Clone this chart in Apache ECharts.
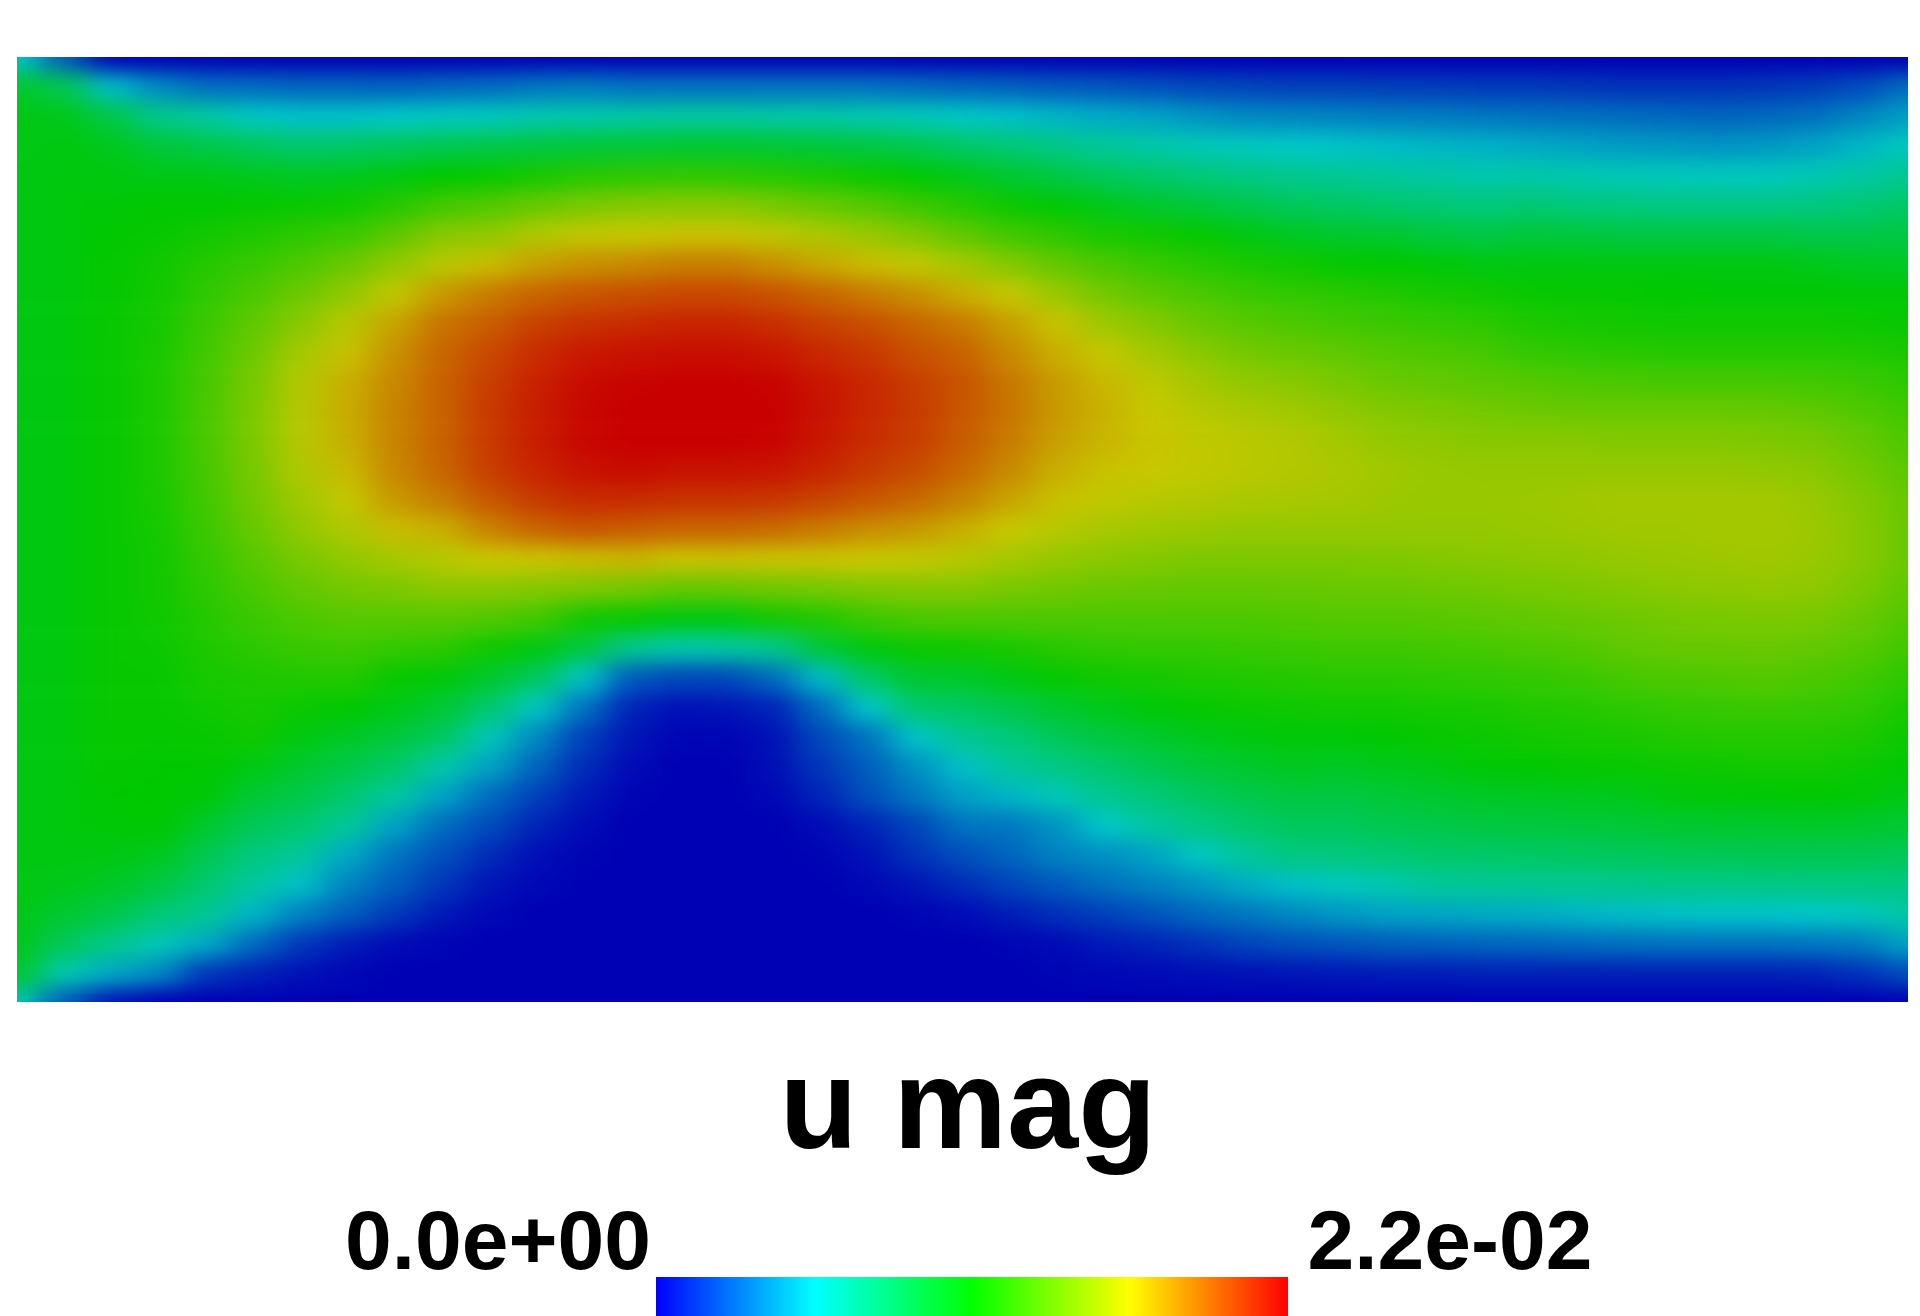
<!DOCTYPE html>
<style>
body {margin: 0; background: #fff;}
#div_clip {position: absolute; left: 17px; top: 57px; width: 1891px; height: 945px; overflow: hidden;}
#div_field {position: absolute; filter: url(#soften);}
#div_main {position: absolute; left: 0; top: 0; width: 1920px; height: 1316px;}
</style>
<script src='https://cdn.jsdelivr.net/npm/echarts@6/dist/echarts.min.js'></script>
<svg width='0' height='0' style='position: absolute'>
	<filter id='soften' x='0' y='0' width='100%' height='100%' color-interpolation-filters='sRGB'>
		<feGaussianBlur stdDeviation='16 10' edgeMode='duplicate'/>
	</filter>
</svg>
<div id='div_clip'><div id='div_field'></div></div>
<div id='div_main'></div>
<script>
// u mag, in units of 1e-4. one line per column, left to right, each from top to bottom
let u_mag = [
	[55,98,104,104,105,105,105,105,105,105,105,105,105,105,105,105,105,105,105,105,105,105,105,105,105,105,105,105,105,104,103,98,60],
	[25,88,103,106,107,107,107,107,107,107,107,107,107,107,107,107,107,107,107,107,107,107,107,107,107,107,107,106,103,97,86,62,25],
	[0,52,90,102,106,108,110,111,111,112,112,112,112,112,112,112,112,112,112,112,112,112,112,112,111,110,108,105,100,90,72,47,5],
	[0,38,72,94,104,110,112,114,115,116,117,118,118,118,118,117,116,115,115,114,113,112,112,111,110,110,110,102,92,78,60,38,0],
	[0,31,66,90,104,110,115,120,123,126,128,129,130,130,129,128,126,124,122,120,118,116,114,112,110,108,98,88,80,70,47,16,0],
	[0,30,57,85,102,111,118,125,130,136,140,143,144,144,143,141,138,134,130,126,122,118,116,114,105,96,86,76,66,50,30,10,0],
	[0,28,53,80,100,112,122,131,140,148,155,159,160,160,158,154,150,143,137,131,125,119,113,106,98,90,80,68,53,36,16,5,0],
	[0,28,53,82,102,114,126,139,150,160,167,172,173,172,169,164,158,150,142,134,127,120,110,100,90,80,68,47,36,26,8,2,0],
	[0,27,55,85,105,120,135,150,163,175,180,183,184,184,183,178,168,155,144,134,124,112,104,94,82,66,45,32,26,16,3,0,0],
	[0,29,57,88,110,128,147,160,178,188,192,193,193,193,192,186,172,160,148,134,122,108,96,84,64,45,30,22,15,7,1,0,0],
	[0,30,58,90,112,132,150,168,186,194,200,203,204,204,203,196,184,165,148,132,114,98,80,60,45,30,21,12,6,2,0,0,0],
	[0,33,62,92,116,138,158,176,192,202,208,211,212,212,210,204,192,166,146,128,106,84,57,38,28,18,10,4,2,0,0,0,0],
	[0,34,63,94,120,143,163,180,196,206,213,217,218,218,215,208,196,168,144,115,92,54,32,18,12,7,3,1,0,0,0,0,0],
	[0,32,65,95,122,146,164,182,198,208,215,219,220,220,217,208,194,170,142,112,70,25,10,6,3,1,0,0,0,0,0,0,0],
	[0,32,66,97,123,147,166,185,200,210,216,220,220,220,215,206,192,166,137,106,62,20,5,1,0,0,0,0,0,0,0,0,0],
	[0,32,66,97,122,147,166,185,200,210,216,220,220,220,215,206,192,167,138,106,65,20,6,1,0,0,0,0,0,0,0,0,0],
	[0,32,65,96,120,143,162,180,197,207,214,219,220,219,214,205,190,166,140,115,70,30,10,5,4,2,0,0,0,0,0,0,0],
	[0,32,64,94,117,138,157,174,192,202,209,214,215,214,210,201,186,166,142,119,94,52,30,20,15,10,3,1,0,0,0,0,0],
	[0,32,62,92,113,133,152,168,186,198,205,209,209,208,204,196,181,165,145,126,106,82,55,32,26,22,10,5,2,0,0,0,0],
	[0,30,60,88,109,126,145,163,180,192,198,203,204,203,199,191,178,163,146,130,113,97,80,54,40,33,19,14,6,1,0,0,0],
	[0,28,56,82,103,120,136,155,172,186,193,197,196,195,191,184,172,160,146,131,114,99,84,70,53,44,32,22,12,3,0,0,0],
	[0,27,53,78,97,113,128,146,164,176,182,187,188,186,182,175,165,155,143,131,117,105,90,77,67,50,33,28,19,8,1,0,0],
	[0,25,50,73,91,109,122,137,152,166,172,177,178,176,172,167,160,151,141,131,121,111,98,86,74,60,41,36,25,13,3,1,0],
	[0,24,47,68,85,103,117,130,142,153,164,169,171,170,167,163,156,148,139,131,123,114,103,93,81,70,55,40,31,18,7,2,0],
	[0,22,45,64,81,98,114,125,135,146,155,162,165,166,165,160,154,146,138,131,124,116,108,98,88,77,66,45,36,23,10,3,0],
	[0,20,41,60,77,94,111,121,130,139,148,155,160,163,163,159,152,144,137,131,124,118,111,103,94,84,74,57,41,29,14,4,0],
	[0,19,38,58,74,89,105,117,126,134,142,150,157,161,161,157,151,144,137,131,125,119,113,106,98,89,80,68,48,33,19,5,0],
	[0,18,37,55,71,85,101,114,123,131,139,147,154,159,159,156,151,144,138,132,126,120,114,108,102,93,85,75,53,38,22,6,0],
	[0,18,36,54,69,83,98,111,121,128,136,143,150,155,157,155,151,144,139,133,127,121,115,108,100,92,85,76,58,42,24,7,0],
	[0,17,35,52,67,80,97,110,119,126,133,139,146,151,154,153,151,145,139,133,127,121,115,110,103,95,88,78,62,45,26,8,0],
	[0,17,34,50,65,78,93,108,116,124,131,137,144,149,152,152,151,146,140,134,128,122,116,112,105,98,90,81,68,46,27,8,0],
	[0,16,33,49,63,76,91,105,114,122,129,135,142,147,151,152,151,147,141,135,129,123,117,113,109,100,92,82,69,47,28,9,0],
	[0,16,32,47,64,78,94,106,112,118,124,133,140,147,151,153,152,148,143,137,131,124,119,115,110,101,93,83,70,48,29,9,0],
	[0,15,31,45,62,76,93,106,111,116,122,131,139,147,151,154,153,149,144,138,132,126,120,116,111,102,94,84,71,50,30,9,0],
	[0,14,30,43,60,75,92,105,111,115,121,130,139,146,151,155,154,151,146,140,136,129,122,117,112,103,95,85,72,52,31,9,0],
	[0,14,29,42,59,74,92,105,110,114,120,129,139,146,151,155,154,152,148,142,138,131,124,119,113,107,97,86,73,53,32,9,0],
	[0,14,28,41,58,74,92,105,109,114,120,129,139,146,151,155,155,153,149,143,138,132,125,120,114,108,98,87,73,54,32,9,0],
	[0,15,29,42,58,74,92,105,109,114,120,129,138,145,150,155,155,154,150,144,139,133,126,120,115,109,98,88,74,54,32,9,0],
	[0,17,31,45,61,75,90,103,109,114,120,128,136,143,148,152,153,152,149,143,137,131,125,120,115,110,99,88,75,55,33,10,0],
	[0,21,37,50,65,78,90,101,108,113,119,126,132,138,142,146,147,147,144,139,134,128,123,118,113,108,98,88,75,58,35,14,0],
	[0,30,44,58,70,82,92,100,108,112,117,122,127,131,135,138,139,139,136,132,127,122,117,113,109,105,96,86,75,65,45,22,0],
]
let u_mag_max = 220
let field_title = 'u mag'
let range_min_label = '0.0e+00'
let range_max_label = '2.2e-02'
let field_colors = ['#0000b4', '#00c8c8', '#00c800', '#c8c800', '#c80000']
let bar_colors = ['#0000ff', '#00ffff', '#00ff00', '#ffff00', '#ff0000']

let columns = u_mag.length
let rows = u_mag[0].length
let cell_w = 1891 / (columns - 1)
let cell_h = 945 / (rows - 1)
// one extra cell on each side, edge values repeated, so the softening does not fade at the border
let data = []
for (let i = -1; i <= columns; i++) {
	for (let j = -1; j <= rows; j++) {
		let c = Math.min(Math.max(i, 0), columns - 1)
		let r = Math.min(Math.max(j, 0), rows - 1)
		data.push([i + 1, j + 1, u_mag[c][r]])
	}
}
let div_field = document.getElementById('div_field')
div_field.style.left = -1.5 * cell_w + 'px'
div_field.style.top = -1.5 * cell_h + 'px'
div_field.style.width = (columns + 2) * cell_w + 'px'
div_field.style.height = (rows + 2) * cell_h + 'px'

let echart_field = echarts.init(div_field)
echart_field.setOption({
	animation: false,
	grid: {left: 0, right: 0, top: 0, bottom: 0},
	xAxis: {type: 'category', show: false, data: Array.from({length: columns + 2}, (_, i) => i)},
	yAxis: {type: 'category', show: false, inverse: true, data: Array.from({length: rows + 2}, (_, i) => i)},
	visualMap: {show: false, min: 0, max: u_mag_max, inRange: {color: field_colors}},
	series: [{type: 'heatmap', data, progressive: 0, silent: true}],
})

let echart_main = echarts.init(document.getElementById('div_main'))
let label_style = {fontFamily: 'Liberation Sans', fontWeight: 'bold', color: '#000'}
let bar_stops = bar_colors.map((color, i) => ({offset: i / (bar_colors.length - 1), color}))
echart_main.setOption({
	animation: false,
	title: [
		{text: field_title, left: 968, top: 1002, textAlign: 'center', padding: 0, textStyle: {...label_style, fontSize: 128}},
		{text: range_min_label, left: 498, top: 1173, textAlign: 'center', padding: 0, textStyle: {...label_style, fontSize: 84}},
		{text: range_max_label, left: 1450, top: 1173, textAlign: 'center', padding: 0, textStyle: {...label_style, fontSize: 84}},
	],
	graphic: [{
		type: 'rect', silent: true,
		shape: {x: 656, y: 1277, width: 632, height: 39},
		style: {fill: new echarts.graphic.LinearGradient(0, 0, 1, 0, bar_stops)},
	}],
})
</script>
